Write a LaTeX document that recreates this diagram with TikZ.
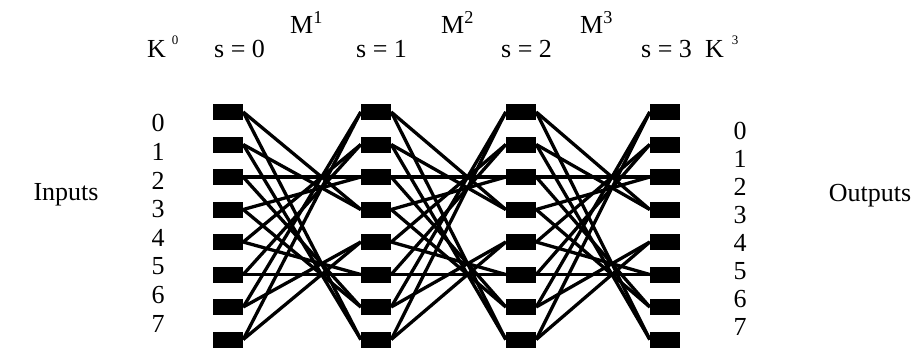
\documentclass[tikz,border=0pt]{standalone}
\usepackage{fontspec}
\setmainfont{Liberation Serif}
\begin{document}
\begin{tikzpicture}[x=1pt,y=-1pt,
    cell/.style={fill=black, rectangle, minimum width=30pt, minimum height=16pt, inner sep=0pt},
    wire/.style={line width=3.3pt},
    lbl/.style={font=\fontsize{26}{30}\selectfont, inner sep=0pt}]
    \useasboundingbox (0,0) rectangle (917,349);
    %   Switch columns s = 0 ... 3
    \foreach \s/\x in {0/228,1/376,2/521,3/665}
        \foreach \i in {0,...,7}
            \node[cell] (n\s\i) at (\x, 112+32.5*\i) {};
    %   Links of M^1, M^2 and M^3
    \foreach \s [count=\t] in {0,1,2}
        \foreach \k in {0,...,3} {
            \pgfmathtruncatemacro\hiidx{3-\k}
            \pgfmathtruncatemacro\loidx{7-\k}
            \foreach \j in {0,1} {
                \pgfmathtruncatemacro\srcidx{2*\k+\j}
                \draw[wire] (n\s\srcidx.east) -- (n\t\hiidx.west);
                \draw[wire] (n\s\srcidx.east) -- (n\t\loidx.west);
            }
        }
    %   Port numbers
    \foreach \i in {0,...,7} {
        \node[lbl] (in\i) at (158, 123+28.7*\i) {\i};
        \node[lbl] (out\i) at (740, 131+28*\i) {\i};
    }
    \node[lbl, anchor=base] (inputs) at (66,200) {Inputs};
    \node[lbl, anchor=base] (outputs) at (870,201) {Outputs};
    %   Stage and matrix labels
    \node[lbl, anchor=base west] (k0) at (147,57) {K\hspace{6pt}\raisebox{13pt}{\fontsize{13}{13}\selectfont 0}};
    \node[lbl, anchor=base west] (k3) at (705,57) {K\hspace{8pt}\raisebox{13pt}{\fontsize{13}{13}\selectfont 3}};
    \foreach \s/\x in {0/214,1/356,2/501,3/641}
        \node[lbl, anchor=base west] (s\s) at (\x,57) {s = \s};
    \foreach \m/\x in {1/290,2/441,3/580}
        \node[lbl, anchor=base west] (m\m) at (\x,33) {M\textsuperscript{\m}};
\end{tikzpicture}
\end{document}
